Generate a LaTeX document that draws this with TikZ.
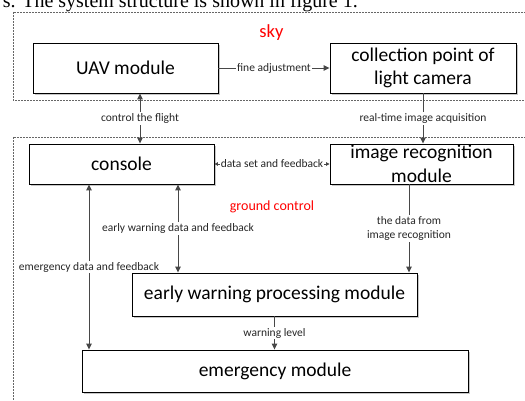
\documentclass[tikz,border=0pt]{standalone}
\usepackage{fontspec}
\setmainfont{Carlito}
\newfontfamily\bodyserif{Liberation Serif}
\usetikzlibrary{arrows.meta,shadows,positioning,calc}

\begin{document}
\begin{tikzpicture}[x=1pt,y=-1pt,>={Triangle[width=5.5pt,length=6pt]}]

    \tikzstyle{commonNode}=[draw=black, line width=0.9pt, align=center, inner sep=0pt, font=\fontsize{19.5}{23.5}\selectfont]
    \tikzstyle{module}=[commonNode, rectangle, fill=white, general shadow={fill=black!22, shadow xshift=1.6pt, shadow yshift=-1.6pt}]
    \tikzstyle{region}=[draw=black!60, line width=0.6pt, dash pattern=on 2pt off 1pt]
    \tikzstyle{link}=[draw=black!72, line width=0.9pt]
    \tikzstyle{lab}=[fill=white, inner sep=1.2pt, font=\fontsize{11.5}{14}\selectfont, align=center, text=black!85]
    \tikzstyle{zone}=[text=red, inner sep=0pt, anchor=base]

    \useasboundingbox (0,0) rectangle (525,401);

    % text line of the page above the figure
    \node at (358,8) [anchor=base east, inner sep=0pt, font=\bodyserif\fontsize{20}{24}\selectfont] (pageline) {s. The system structure is shown in figure 1.};

    % regions
    \draw [region] (13,12) rectangle (540,100);
    \draw [region] (13,137) rectangle (540,420);
    \node at (271.5,38) [zone, font=\fontsize{18.5}{20}\selectfont] (sky) {sky};
    \node at (272,210) [zone, font=\fontsize{14}{16}\selectfont] (ground) {ground control};

    % modules
    \node at (125.5,68) [module, minimum width=185pt, minimum height=50pt] (uav) {UAV module};
    \node at (423,68) [module, minimum width=186pt, minimum height=50pt] (cam) {collection point of\\light camera};
    \node at (121.5,164) [module, minimum width=185pt, minimum height=40pt] (console) {console};
    \node at (421.5,164) [module, minimum width=183pt, minimum height=40pt] (recog) {image recognition\\module};
    \node at (274.5,294.5) [module, minimum width=285pt, minimum height=43pt] (warn) {early warning processing module};
    \node at (275,371) [module, minimum width=386pt, minimum height=42pt] (emerg) {emergency module};

    % connectors
    \draw [link, ->] (uav) -- node [lab] {fine adjustment} (cam);
    \draw [link, <->] ([xshift=14.5pt]uav.south) -- node [lab] {control the flight} ([xshift=18.5pt]console.north);
    \draw [link, ->] (cam.south) -- node [lab] {real-time image acquisition} (cam.south |- recog.north);
    \draw [link, {Triangle[width=3.5pt,length=3.5pt]}-{Triangle[width=3.5pt,length=3.5pt]}] (console) -- node [lab] {data set and feedback} (recog);
    \draw [link, <->] ([xshift=56.5pt]console.south) -- node [lab] {early warning data and feedback} ([xshift=56.5pt]console.south |- warn.north);
    \draw [link, <->] ([xshift=-32.5pt]console.south) -- node [lab] {emergency data and feedback} ([xshift=-32.5pt]console.south |- emerg.north);
    \draw [link, ->] ([xshift=-12.5pt]recog.south) -- node [lab] {the data from\\image recognition} ([xshift=-12.5pt]recog.south |- warn.north);
    \draw [link, ->] (warn.south) -- node [lab] {warning level} (warn.south |- emerg.north);

\end{tikzpicture}
\end{document}
